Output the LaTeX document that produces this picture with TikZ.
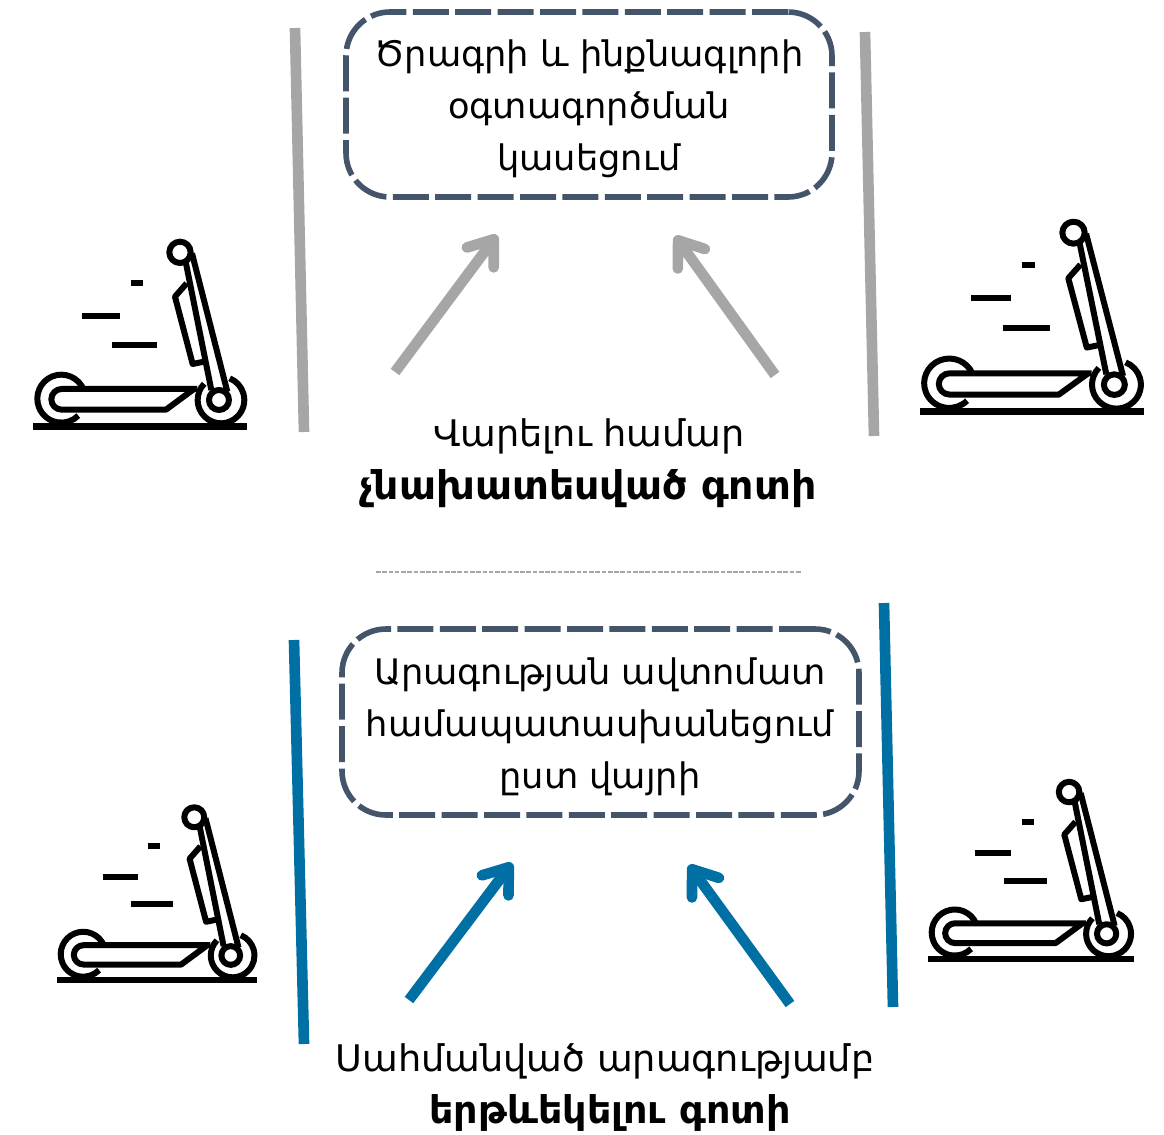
\documentclass[tikz,border=0pt]{standalone}
\usepackage{fontspec}
\setmainfont{DejaVu Sans}
\usetikzlibrary{arrows.meta}
\definecolor{boxblue}{HTML}{44546A}
\definecolor{railgray}{HTML}{A6A6A6}
\definecolor{railblue}{HTML}{0070A4}
\tikzset{
  scooter/.pic={
    \begin{scope}[line width=4.5pt,black,line join=round]
      \draw[line width=5pt] (40,619) -- (682,619);
      \draw (124,536) ++(-22:72) arc[start angle=-22,end angle=-315,radius=72];
      \draw (603,540) ++(224:70) arc[start angle=224,end angle=-68,radius=70];
      \draw (597,540) circle[radius=30];
      \draw (532,507) -- (125,507) arc[start angle=-90,end angle=-270,radius=31] -- (438,569) -- (522,507);
      \draw (480,97) circle[radius=32];
      \draw (497,125) -- (574,510);
      \draw (516,100) -- (622,515);
      \draw (500,190) -- (465,230) -- (518,432) -- (552,425);
      \draw (332,190) -- (370,190);
      \draw (187,288) -- (300,288);
      \draw (277,375) -- (412,375);
    \end{scope}
  },
  railg/.style={line width=8pt,railgray},
  railb/.style={line width=8pt,railblue},
  arrowg/.style={line width=8pt,railgray,-{Straight Barb[length=17pt,width=25pt,round,line width=8pt]}},
  arrowb/.style={line width=8pt,railblue,-{Straight Barb[length=17pt,width=25pt,round,line width=8pt]}},
  dashbox/.style={draw=boxblue,line width=4.2pt,rounded corners=33pt,dash pattern=on 27pt off 4.8pt},
  boxtext/.style={align=center,inner sep=0pt,font=\fontsize{26.4}{38.8}\selectfont},
  label/.style={align=center,inner sep=0pt,font=\fontsize{27.5}{40}\selectfont},
  boldlabel/.style={inner sep=0pt,font=\fontsize{29.6}{40}\selectfont\bfseries},
}
\begin{document}
\begin{tikzpicture}[x=0.75pt,y=-0.75pt]
\useasboundingbox (0,0) rectangle (1164,1135);
% rails
\coordinate (r1a) at (295,28);  \coordinate (r1b) at (304,432);
\coordinate (r2a) at (865,32);  \coordinate (r2b) at (874,436);
\coordinate (r3a) at (294,640); \coordinate (r3b) at (304,1044);
\coordinate (r4a) at (884,603); \coordinate (r4b) at (893,1007);
\draw[railg] (r1a) -- (r1b);
\draw[railg] (r2a) -- (r2b);
\draw[railb] (r3a) -- (r3b);
\draw[railb] (r4a) -- (r4b);
% boxes
\node[dashbox,minimum width=364.5pt,minimum height=138.75pt] (box1) at (589,104.5) {};
\node[boxtext] (txt1) at (589,109) {Ծրագրի և ինքնագլորի\\օգտագործման\\կասեցում};
\node[dashbox,minimum width=387.75pt,minimum height=139.5pt] (box2) at (600.5,722) {};
\node[boxtext] (txt2) at (600,727) {Արագության ավտոմատ\\համապատասխանեցում\\ըստ վայրի};
% labels
\node[label] (lab1) at (589,436) {Վարելու համար};
\node[boldlabel] (lab1b) at (588,489) {չնախատեսված գոտի};
\node[label] (lab2) at (605,1061) {Սահմանված արագությամբ};
\node[boldlabel,font=\fontsize{28.6}{40}\selectfont\bfseries] (lab2b) at (610,1113) {երթևեկելու գոտի};
% separator
\coordinate (s1) at (376,572); \coordinate (s2) at (802,572);
\draw[railgray,line width=0.9pt,dash pattern=on 3.5pt off 1.2pt] (s1) -- (s2);
% arrows
\coordinate (a1a) at (395,372); \coordinate (a1b) at (497,235);
\coordinate (a2a) at (775,375); \coordinate (a2b) at (675,236);
\coordinate (a3a) at (409,1000); \coordinate (a3b) at (512,863);
\coordinate (a4a) at (790,1004); \coordinate (a4b) at (689,865);
\draw[arrowg] (a1a) -- (a1b);
\draw[arrowg] (a2a) -- (a2b);
\draw[arrowb] (a3a) -- (a3b);
\draw[arrowb] (a4a) -- (a4b);
% scooters
\pic[shift={(20,220)},scale=0.3333] {scooter};
\pic[shift={(906,199.4)},xscale=0.349,yscale=0.343] {scooter};
\pic[shift={(44.5,787)},xscale=0.312,yscale=0.312] {scooter};
\pic[shift={(915,761)},xscale=0.321,yscale=0.32] {scooter};
\end{tikzpicture}
\end{document}
